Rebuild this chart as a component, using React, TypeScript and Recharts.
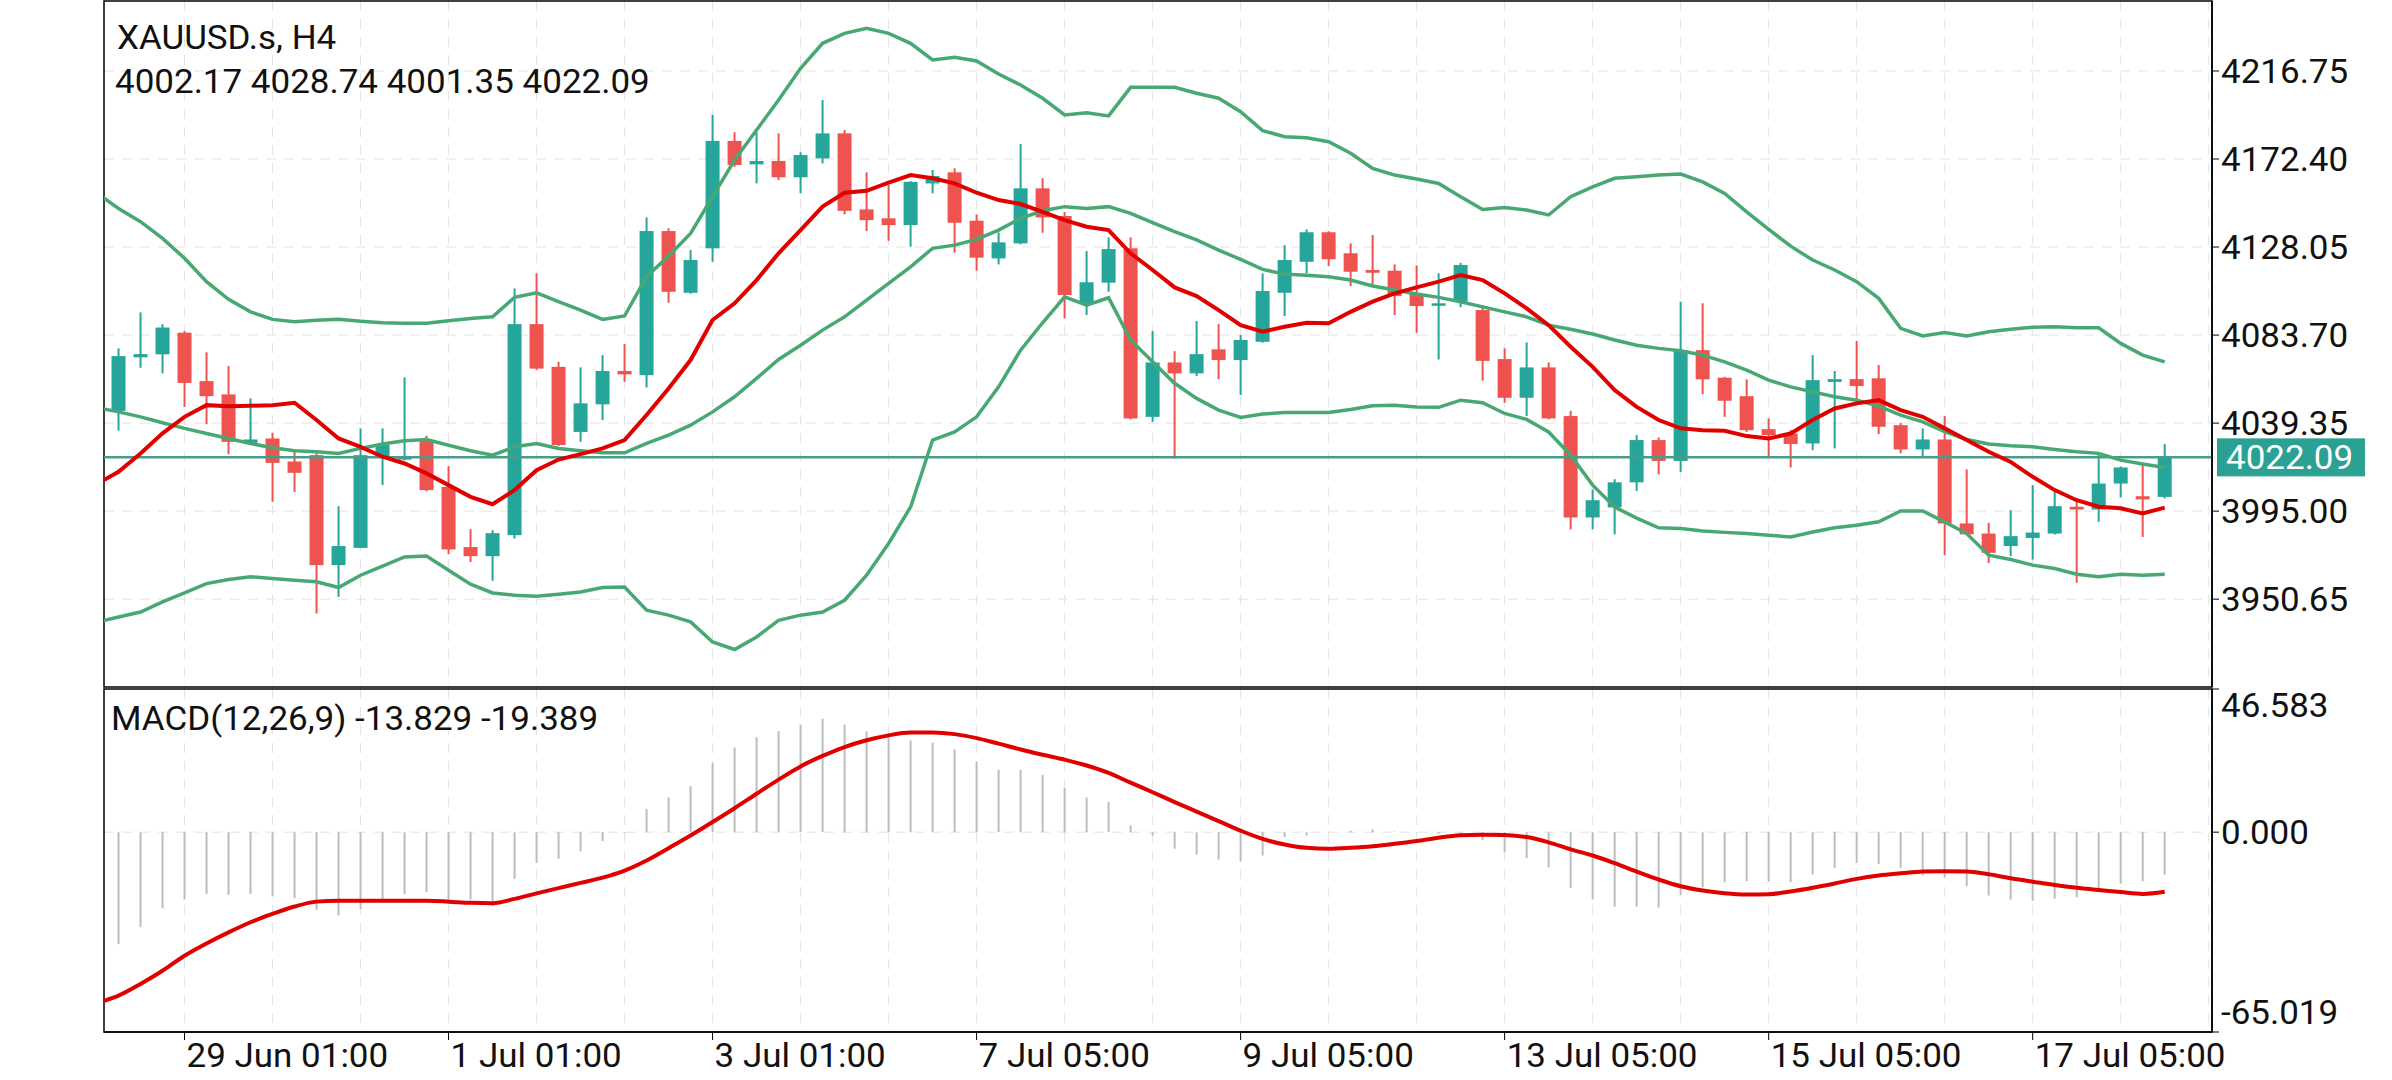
import React from 'react';
import {
  ComposedChart,
  Bar,
  Line,
  XAxis,
  YAxis,
  CartesianGrid,
  ReferenceLine,
  ReferenceArea,
} from 'recharts';

const FONT = 'Roboto, "Noto Sans", sans-serif';
const FS = 33;
const SX = 1.06; // terminal font is drawn a little wide
const TEAL = '#26a69a';
const RED = '#ef5350';
const BAND = '#48a874';
const MA_RED = '#e00000';
const GRID = '#e3e3e3';

const symbol = 'XAUUSD.s, H4';

// H4 candles, oldest first
const opens = [
  4045.5, 4072.5, 4074.0, 4084.9, 4060.5, 4053.8, 4029.4, 4031.6, 4020.0, 4023.2,
  3967.8, 3976.5, 4022.4, 4021.0, 4030.5, 4007.2, 3976.9, 3972.3, 3982.9, 4089.2,
  4067.7, 4034.9, 4048.8, 4065.6, 4063.5, 4136.1, 4105.0, 4127.4, 4181.5, 4169.7,
  4171.4, 4163.2, 4172.7, 4185.3, 4147.0, 4142.5, 4139.1, 4160.1, 4165.7, 4141.3,
  4122.3, 4129.9, 4157.6, 4143.7, 4099.3, 4110.1, 4127.4, 4042.5, 4069.9, 4064.4,
  4076.5, 4071.1, 4080.3, 4105.0, 4120.6, 4135.5, 4124.9, 4116.5, 4116.1, 4104.4,
  4098.8, 4100.5, 4096.3, 4071.6, 4052.1, 4067.4, 4042.9, 3991.8, 3996.9, 4009.5,
  4030.8, 4020.3, 4076.1, 4062.2, 4052.9, 4036.3, 4034.1, 4029.1, 4060.1, 4061.5,
  4061.9, 4038.3, 4026.1, 4031.1, 3988.8, 3983.7, 3977.4, 3981.5, 3983.7, 3997.2,
  3995.8, 4008.9, 4002.5, 4002.17,
];
const highs = [
  4077.0, 4095.1, 4089.2, 4085.7, 4075.0, 4068.1, 4051.8, 4034.5, 4024.9, 4024.2,
  3997.5, 4036.7, 4036.7, 4062.4, 4033.0, 4017.7, 3985.9, 3985.4, 4107.2, 4114.8,
  4070.2, 4067.4, 4073.6, 4079.2, 4143.0, 4137.5, 4126.5, 4194.6, 4185.9, 4185.9,
  4185.3, 4175.8, 4202.1, 4187.0, 4165.7, 4159.3, 4161.2, 4166.9, 4167.7, 4144.5,
  4135.4, 4179.9, 4162.7, 4145.7, 4126.0, 4132.9, 4132.9, 4085.7, 4075.6, 4090.8,
  4089.2, 4083.7, 4114.8, 4129.0, 4137.0, 4136.0, 4129.9, 4134.1, 4119.3, 4118.8,
  4114.8, 4120.1, 4098.8, 4077.0, 4080.0, 4069.9, 4045.5, 4005.9, 4011.1, 4033.3,
  4032.1, 4100.5, 4099.7, 4062.7, 4061.4, 4041.7, 4035.8, 4073.6, 4065.6, 4080.7,
  4068.6, 4039.5, 4036.7, 4042.9, 4016.0, 3989.1, 3995.5, 4008.1, 4005.2, 4001.4,
  4024.4, 4017.5, 4019.3, 4028.74,
];
const lows = [
  4035.5, 4067.2, 4064.4, 4047.5, 4038.8, 4023.7, 4028.8, 3999.7, 4004.7, 3943.4,
  3951.8, 3976.4, 4008.1, 4020.5, 4005.0, 3973.3, 3969.4, 3959.9, 3981.2, 4066.2,
  4027.8, 4029.9, 4040.9, 4060.1, 4057.3, 4100.0, 4104.5, 4120.6, 4168.5, 4160.1,
  4161.8, 4155.1, 4170.2, 4144.5, 4136.1, 4131.2, 4128.2, 4155.1, 4125.2, 4116.1,
  4119.3, 4129.4, 4135.2, 4092.1, 4093.8, 4105.5, 4041.2, 4040.0, 4021.5, 4063.0,
  4061.5, 4053.5, 4079.8, 4093.3, 4114.8, 4118.5, 4108.4, 4108.9, 4093.8, 4084.9,
  4071.4, 4097.7, 4060.7, 4049.6, 4042.9, 4041.2, 3985.8, 3985.9, 3983.3, 4005.2,
  4013.5, 4014.8, 4053.9, 4042.5, 4034.9, 4022.4, 4017.0, 4025.7, 4026.6, 4050.9,
  4033.8, 4024.1, 4022.7, 3972.8, 3982.9, 3968.9, 3972.3, 3970.6, 3983.2, 3958.9,
  3989.6, 4001.9, 3982.0, 4001.35,
];
const closes = [
  4073.1, 4074.1, 4087.5, 4059.6, 4052.9, 4029.9, 4031.1, 4019.3, 4014.3, 3967.8,
  3977.4, 4023.2, 4028.3, 4022.2, 4005.6, 3975.7, 3972.3, 3983.9, 4089.2, 4066.8,
  4028.3, 4049.3, 4065.6, 4063.9, 4136.1, 4105.5, 4121.5, 4181.5, 4169.4, 4171.4,
  4163.2, 4174.4, 4185.3, 4146.3, 4141.6, 4139.1, 4160.9, 4163.8, 4140.3, 4122.7,
  4130.4, 4157.6, 4143.0, 4103.9, 4110.3, 4127.0, 4041.7, 4069.9, 4064.4, 4074.1,
  4071.1, 4081.2, 4105.9, 4121.5, 4135.5, 4121.9, 4115.6, 4115.1, 4103.4, 4098.3,
  4099.7, 4119.0, 4070.7, 4052.1, 4067.4, 4041.7, 3991.8, 4000.5, 4009.5, 4030.8,
  4020.3, 4076.1, 4061.4, 4050.6, 4035.8, 4033.3, 4028.8, 4061.0, 4061.5, 4058.0,
  4037.5, 4026.1, 4031.1, 3988.8, 3983.3, 3974.0, 3982.4, 3984.2, 3997.5, 3995.8,
  4008.9, 4017.0, 4000.9, 4022.09,
];

// indicator series start one bar earlier (index -1) so they run into the left edge
const bbUpper = [
  4155.3,
  4147.5, 4140.8, 4132.4, 4122.4, 4110.6, 4101.7, 4095.4, 4091.6, 4090.4, 4091.2,
  4091.7, 4090.7, 4089.9, 4089.6, 4089.6, 4090.9, 4092.1, 4092.9, 4102.7, 4105.0,
  4100.5, 4096.3, 4091.6, 4093.3, 4113.1, 4123.5, 4134.9, 4153.4, 4171.9, 4187.0,
  4202.1, 4218.1, 4230.7, 4235.7, 4238.3, 4235.7, 4230.7, 4222.3, 4223.6, 4221.8,
  4215.2, 4209.7, 4203.0, 4194.6, 4195.7, 4194.1, 4208.5, 4208.5, 4208.5, 4205.5,
  4203.0, 4196.2, 4186.7, 4183.6, 4183.1, 4181.1, 4175.3, 4167.7, 4164.3, 4162.3,
  4160.1, 4153.4, 4147.0, 4148.0, 4146.7, 4144.2, 4153.4, 4158.4, 4162.7, 4163.5,
  4164.3, 4164.8, 4160.9, 4155.1, 4145.8, 4137.0, 4128.5, 4121.5, 4116.5, 4110.6,
  4102.2, 4087.1, 4083.3, 4085.0, 4083.3, 4085.4, 4086.6, 4087.6, 4087.9, 4087.4,
  4087.4, 4079.5, 4073.6, 4070.2,
];
const bbMiddle = [
  4047.2,
  4045.0, 4042.5, 4039.5, 4036.7, 4034.1, 4031.6, 4029.1, 4026.9, 4025.4, 4024.9,
  4024.1, 4026.6, 4028.8, 4030.4, 4031.1, 4028.2, 4025.4, 4023.2, 4027.4, 4029.1,
  4026.6, 4025.4, 4024.4, 4024.4, 4029.1, 4033.3, 4038.3, 4045.0, 4052.6, 4061.9,
  4071.4, 4078.6, 4086.2, 4092.9, 4101.3, 4109.7, 4118.1, 4127.4, 4129.0, 4131.9,
  4136.6, 4142.5, 4146.3, 4148.4, 4147.5, 4148.4, 4145.0, 4140.3, 4135.8, 4131.6,
  4126.5, 4121.8, 4116.8, 4114.4, 4113.8, 4113.1, 4111.4, 4108.4, 4106.4, 4104.4,
  4102.7, 4100.5, 4097.9, 4095.4, 4092.9, 4088.7, 4086.6, 4084.2, 4081.2, 4078.6,
  4077.0, 4075.8, 4073.6, 4070.2, 4066.0, 4061.0, 4057.6, 4055.1, 4052.6, 4050.9,
  4047.9, 4043.4, 4040.0, 4035.0, 4031.1, 4028.8, 4027.9, 4027.4, 4026.1, 4024.9,
  4024.1, 4020.7, 4018.7, 4017.0,
];
const bbLower = [
  3939.0,
  3941.7, 3944.2, 3949.3, 3953.8, 3958.5, 3960.6, 3961.9, 3961.1, 3960.2, 3959.4,
  3956.5, 3962.7, 3967.3, 3971.9, 3972.4, 3965.2, 3958.2, 3953.8, 3952.6, 3952.1,
  3953.1, 3954.3, 3956.5, 3956.8, 3945.1, 3942.6, 3939.2, 3929.1, 3925.3, 3931.6,
  3940.0, 3942.6, 3944.2, 3950.1, 3962.7, 3978.7, 3997.1, 4030.8, 4034.9, 4042.5,
  4057.6, 4076.1, 4089.9, 4103.0, 4098.8, 4102.5, 4081.2, 4070.2, 4059.4, 4051.8,
  4045.9, 4042.2, 4043.9, 4044.7, 4044.7, 4044.7, 4046.2, 4048.1, 4048.4, 4047.5,
  4047.3, 4050.9, 4049.6, 4044.2, 4041.2, 4034.9, 4023.2, 4008.1, 3997.1, 3991.5,
  3986.6, 3986.3, 3985.0, 3984.3, 3983.7, 3982.9, 3982.0, 3984.5, 3986.6, 3987.9,
  3989.6, 3995.1, 3995.1, 3989.6, 3983.7, 3972.8, 3970.6, 3967.8, 3966.1, 3963.2,
  3961.9, 3963.2, 3962.7, 3963.2,
];
const maLine = [
  4008.6,
  4014.8, 4024.0, 4034.2, 4042.5, 4048.4, 4047.9, 4048.1, 4048.4, 4049.6, 4040.9,
  4031.6, 4027.4, 4022.4, 4019.0, 4014.0, 4008.1, 4002.2, 3998.5, 4005.6, 4015.6,
  4021.0, 4023.7, 4026.6, 4030.8, 4043.4, 4056.8, 4071.1, 4091.3, 4099.7, 4111.4,
  4124.9, 4136.6, 4148.4, 4155.4, 4156.4, 4160.5, 4164.3, 4162.7, 4160.1, 4155.4,
  4151.7, 4149.7, 4145.8, 4141.6, 4138.3, 4136.6, 4124.9, 4116.5, 4107.7, 4103.3,
  4096.3, 4088.7, 4085.4, 4087.9, 4089.9, 4089.6, 4095.4, 4100.5, 4104.7, 4107.7,
  4110.6, 4113.9, 4111.4, 4104.7, 4097.1, 4088.7, 4077.8, 4067.7, 4056.0, 4047.5,
  4040.9, 4036.7, 4035.8, 4035.5, 4032.8, 4031.6, 4034.1, 4040.9, 4046.7, 4049.3,
  4050.9, 4045.9, 4042.5, 4036.7, 4030.8, 4024.9, 4019.8, 4012.3, 4005.6, 4000.5,
  3997.2, 3996.4, 3993.8, 3996.8,
];

// MACD(12,26,9): main line drawn as histogram, signal as the red curve
const macdHist = [
  -36.4, -30.9, -24.8, -21.9, -20.1, -20.4, -20.1, -20.8, -21.5, -25.3,
  -27.1, -25.0, -22.6, -20.1, -19.5, -22.3, -21.9, -23.9, -15.2, -10.0,
  -8.7, -6.2, -2.9, -0.3, 7.6, 11.3, 15.0, 22.5, 27.5, 30.9,
  32.9, 35.0, 36.9, 35.0, 32.8, 31.5, 29.9, 29.1, 26.9, 23.0,
  20.3, 20.3, 18.7, 14.4, 11.3, 9.8, 2.2, -1.1, -5.4, -7.3,
  -8.9, -9.6, -7.6, -1.6, -1.1, 0.1, 0.5, 0.9, 0.2, -0.2,
  -0.5, -1.1, -2.6, -6.5, -8.4, -11.4, -18.1, -21.9, -24.3, -24.3,
  -24.5, -20.4, -17.9, -16.3, -16.0, -16.1, -16.3, -13.8, -11.6, -10.0,
  -10.3, -11.6, -14.1, -14.7, -17.6, -20.6, -21.9, -22.3, -21.7, -21.2,
  -18.5, -16.8, -16.0, -13.829,
];
const macdSignal = [
  -55.6,
  -53.2, -49.4, -45.1, -40.2, -36.2, -32.6, -29.3, -26.6, -24.2, -22.6,
  -22.3, -22.3, -22.3, -22.3, -22.3, -22.6, -23.0, -23.1, -21.7, -19.9,
  -18.2, -16.5, -14.8, -12.5, -9.2, -5.2, -1.1, 3.3, 7.8, 12.5,
  17.1, 21.4, 24.8, 27.7, 29.9, 31.5, 32.4, 32.4, 31.9, 30.6,
  28.8, 26.9, 25.2, 23.6, 21.7, 19.3, 16.1, 13.0, 9.8, 6.7,
  3.6, 0.5, -2.2, -4.0, -5.1, -5.4, -5.1, -4.6, -3.8, -2.9,
  -1.8, -1.0, -0.8, -0.9, -1.6, -3.3, -5.6, -7.6, -10.1, -12.8,
  -15.4, -17.6, -19.0, -19.9, -20.3, -20.2, -19.3, -18.1, -16.7, -15.2,
  -14.1, -13.4, -12.8, -12.7, -12.8, -13.7, -15.0, -16.1, -17.2, -18.1,
  -18.8, -19.5, -20.1, -19.389,
];

const priceTicks = [4216.75, 4172.4, 4128.05, 4083.7, 4039.35, 3995.0, 3950.65];
const priceDomain = [3906.4, 4252.0];
const macdTicks = [46.583, 0, -65.019];
const macdDomain = [-65.019, 46.583];
const timeTicks = [3, 15, 27, 39, 51, 63, 75, 87];
const timeLabels = [
  '29 Jun 01:00', '1 Jul 01:00', '3 Jul 01:00', '7 Jul 05:00',
  '9 Jul 05:00', '13 Jul 05:00', '15 Jul 05:00', '17 Jul 05:00',
];
const xDomain = [-0.66, 95.15];
// vertical grid every 4 bars
const gridBars = Array.from({ length: 24 }, (_, k) => 3 + k * 4);

const last = opens.length - 1;
const lastPrice = closes[last];
const ohlcText = [opens[last], highs[last], lows[last], closes[last]].map((v) => v.toFixed(2)).join(' ');
const macdText = `MACD(12,26,9) ${macdHist[last].toFixed(3)} ${macdSignal[last + 1].toFixed(3)}`;

const rows = bbUpper.map((_, k) => {
  const i = k - 1;
  const candle =
    i >= 0 ? { o: opens[i], h: highs[i], l: lows[i], c: closes[i], hist: macdHist[i] } : {};
  return {
    i,
    upper: bbUpper[k],
    middle: bbMiddle[k],
    lower: bbLower[k],
    ma: maLine[k],
    signal: macdSignal[k],
    ...candle,
  };
});

function Txt({ x, y, children, fill = '#111', anchor = 'start' }: any) {
  return (
    <text
      transform={`translate(${x},${y}) scale(${SX},1)`}
      fontFamily={FONT}
      fontSize={FS}
      fill={fill}
      textAnchor={anchor}
    >
      {children}
    </text>
  );
}

function Candle(props: any) {
  const { x, y, width, height, payload } = props;
  if (!payload || payload.o == null) return null;
  const { o, h, l, c } = payload;
  const color = c >= o ? TEAL : RED;
  const top0 = height < 0 ? y + height : y;
  const hh = Math.abs(height);
  const span = h - l || 1;
  const toY = (v: number) => top0 + ((h - v) / span) * hh;
  const bTop = toY(Math.max(o, c));
  const bBot = toY(Math.min(o, c));
  const cx = x + width / 2;
  return (
    <g>
      <line x1={cx} x2={cx} y1={top0} y2={top0 + hh} stroke={color} strokeWidth={2} />
      <rect x={x} y={bTop} width={width} height={Math.max(bBot - bTop, 2.5)} fill={color} />
    </g>
  );
}

function PriceTick(props: any) {
  const { x, y, payload } = props;
  return <Txt x={x} y={y + 12}>{payload.value.toFixed(2)}</Txt>;
}

function MacdTick(props: any) {
  const { x, y, payload } = props;
  const v = payload.value;
  // end labels are pulled inside the panel
  const shift = v > 0 ? 28 : v < 0 ? -8 : 12;
  return <Txt x={x} y={y + shift}>{v.toFixed(3)}</Txt>;
}

function TimeTick(props: any) {
  const { x, y, payload } = props;
  const idx = timeTicks.indexOf(payload.value);
  return <Txt x={x + 2} y={y + 25}>{timeLabels[idx]}</Txt>;
}

function PriceTag(props: any) {
  const vb = props.viewBox || {};
  const x = vb.x + vb.width + 5;
  const y = vb.y;
  return (
    <g>
      <rect x={x} y={y - 19} width={148} height={38} fill="#2aa192" />
      <Txt x={x + 9} y={y + 12} fill="#fff">{lastPrice.toFixed(2)}</Txt>
    </g>
  );
}

const headStyle: React.CSSProperties = {
  position: 'absolute',
  fontFamily: FONT,
  fontSize: FS,
  lineHeight: `${FS}px`,
  color: '#111',
  whiteSpace: 'nowrap',
  transform: `scaleX(${SX})`,
  transformOrigin: 'left top',
};

// the MACD svg starts a little above its panel so the top axis label has room
const MACD_TOP = 676;
const MACD_PAD = 13;

export default function App() {
  return (
    <div
      style={{
        position: 'absolute',
        left: 0,
        top: 0,
        width: 2392,
        height: 1080,
        background: '#fff',
        overflow: 'hidden',
      }}
    >
      <div style={{ position: 'absolute', left: 0, top: 0 }}>
        <ComposedChart
          width={2392}
          height={688}
          data={rows}
          margin={{ top: 1, right: 0, left: 104, bottom: 1 }}
        >
          <CartesianGrid
            stroke={GRID}
            strokeDasharray="10 8"
            verticalValues={gridBars}
            horizontalValues={priceTicks}
          />
          <XAxis type="number" dataKey="i" domain={xDomain} allowDataOverflow hide />
          <YAxis
            orientation="right"
            width={180}
            domain={priceDomain}
            allowDataOverflow
            ticks={priceTicks}
            interval={0}
            tickSize={7}
            axisLine={{ stroke: '#000', strokeWidth: 1.5 }}
            tickLine={{ stroke: '#000' }}
            tick={<PriceTick />}
          />
          <ReferenceArea
            x1={xDomain[0]}
            x2={xDomain[1]}
            y1={priceDomain[0]}
            y2={priceDomain[1]}
            fill="none"
            stroke="#000"
            strokeWidth={1.5}
          />
          <ReferenceLine
            y={lastPrice}
            stroke="#4a9c8a"
            strokeWidth={2.5}
            label={<PriceTag />}
          />
          <Bar
            dataKey={(d: any) => (d.o == null ? null : [d.l, d.h])}
            barSize={14}
            shape={(p: any) => <Candle {...p} />}
            isAnimationActive={false}
          />
          <Line type="linear" dataKey="upper" stroke={BAND} strokeWidth={3.5} dot={false} isAnimationActive={false} />
          <Line type="linear" dataKey="middle" stroke={BAND} strokeWidth={3.5} dot={false} isAnimationActive={false} />
          <Line type="linear" dataKey="lower" stroke={BAND} strokeWidth={3.5} dot={false} isAnimationActive={false} />
          <Line type="linear" dataKey="ma" stroke={MA_RED} strokeWidth={4} dot={false} isAnimationActive={false} />
        </ComposedChart>
      </div>

      <div style={{ position: 'absolute', left: 0, top: MACD_TOP }}>
        <ComposedChart
          width={2392}
          height={1080 - MACD_TOP}
          data={rows}
          margin={{ top: MACD_PAD, right: 0, left: 104, bottom: 0 }}
        >
          <CartesianGrid
            stroke={GRID}
            strokeDasharray="10 8"
            verticalValues={gridBars}
            horizontalValues={[0]}
          />
          <XAxis
            type="number"
            dataKey="i"
            domain={xDomain}
            allowDataOverflow
            ticks={timeTicks}
            interval={0}
            height={48}
            tickSize={8}
            axisLine={{ stroke: '#000', strokeWidth: 1.5 }}
            tickLine={{ stroke: '#000' }}
            tick={<TimeTick />}
          />
          <YAxis
            orientation="right"
            width={180}
            domain={macdDomain}
            allowDataOverflow
            ticks={macdTicks}
            interval={0}
            tickSize={7}
            axisLine={{ stroke: '#000', strokeWidth: 1.5 }}
            tickLine={{ stroke: '#000' }}
            tick={<MacdTick />}
          />
          <ReferenceArea
            x1={xDomain[0]}
            x2={xDomain[1]}
            y1={macdDomain[0]}
            y2={macdDomain[1]}
            fill="none"
            stroke="#000"
            strokeWidth={1.5}
          />
          <Bar dataKey="hist" barSize={2} fill="#bdbdbd" isAnimationActive={false} />
          <Line type="monotone" dataKey="signal" stroke={MA_RED} strokeWidth={4} dot={false} isAnimationActive={false} />
        </ComposedChart>
      </div>

      <div style={{ ...headStyle, left: 117, top: 21 }}>{symbol}</div>
      <div style={{ ...headStyle, left: 115, top: 65 }}>{ohlcText}</div>
      <div style={{ ...headStyle, left: 111, top: 702 }}>{macdText}</div>
    </div>
  );
}
